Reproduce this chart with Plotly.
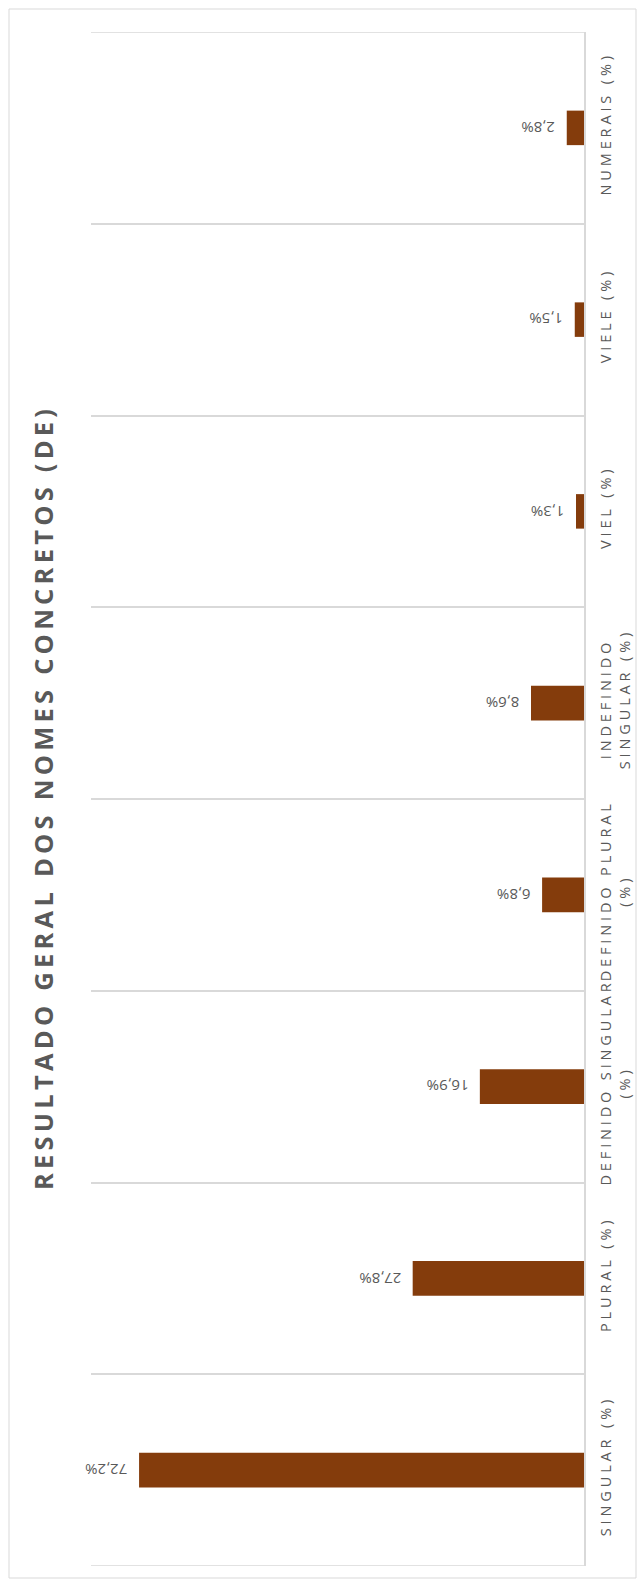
import plotly.graph_objects as go

# Categories (bottom to top) and their shares in percent
categories = [
    "SINGULAR (%)",
    "PLURAL (%)",
    "DEFINIDO SINGULAR<br>(%)",
    "DEFINIDO PLURAL<br>(%)",
    "INDEFINIDO<br>SINGULAR (%)",
    "VIEL (%)",
    "VIELE (%)",
    "NUMERAIS (%)",
]
values = [72.2, 27.8, 16.9, 6.8, 8.6, 1.3, 1.5, 2.8]
title_text = "RESULTADO GERAL DOS NOMES CONCRETOS (DE)"

BAR_COLOR = "#843C0C"
TEXT_COLOR = "#595959"
GRID_COLOR = "#D9D9D9"
FONT = "Open Sans"

W, H = 640, 1584
ML, MR, MT, MB = 91, 56, 32, 18
PW, PH = W - ML - MR, H - MT - MB


def spaced(label, gap="\u2009"):
    """Spread the letters of each line apart, like wide character spacing."""
    return "<br>".join(gap.join(line) for line in label.split("<br>"))


def fmt(v):
    return f"{v:.1f}%".replace(".", ",")


def px_x(p):
    return (p - ML) / PW


def px_y(p):
    return (H - MB - p) / PH


tick_labels = [spaced(c, "\u2009\u200a") for c in categories]

fig = go.Figure(
    go.Bar(
        x=values,
        y=tick_labels,
        orientation="h",
        marker=dict(color=BAR_COLOR, line=dict(width=0)),
        width=0.18,
        hoverinfo="skip",
    )
)

# Value labels, turned upside down, just past the end of each bar
for v, c in zip(values, tick_labels):
    t = fmt(v)
    approx_w = 8.2 * len(t)
    fig.add_annotation(
        x=v, y=c, xref="x", yref="y",
        text=t, showarrow=False, textangle=180,
        xanchor="center", yanchor="middle",
        xshift=-(12 + approx_w / 2),
        font=dict(family=FONT, size=15, color=TEXT_COLOR),
    )

# Vertical chart title on the left
fig.add_annotation(
    x=px_x(43), y=px_y(800), xref="paper", yref="paper",
    text=f"<b>{spaced(title_text)}</b>", showarrow=False, textangle=-90,
    xanchor="center", yanchor="middle",
    font=dict(family=FONT, size=25.5, color=TEXT_COLOR),
)

# Outer category boundaries (first and last separator lines)
for yb in (-0.5, len(categories) - 0.5):
    fig.add_shape(
        type="line", xref="paper", yref="y",
        x0=0, x1=1, y0=yb, y1=yb,
        line=dict(color=GRID_COLOR, width=1.5), layer="below",
    )

# Thin outer frame around the chart
fig.add_shape(
    type="rect", xref="paper", yref="paper",
    x0=px_x(9), x1=px_x(636), y0=px_y(1578), y1=px_y(9),
    line=dict(color=GRID_COLOR, width=1), fillcolor="rgba(0,0,0,0)",
    layer="below",
)

fig.update_layout(
    width=W, height=H,
    margin=dict(l=ML, r=MR, t=MT, b=MB),
    paper_bgcolor="white", plot_bgcolor="white",
    showlegend=False,
    xaxis=dict(
        range=[80, 0], showgrid=False, zeroline=False,
        showticklabels=False, showline=False, ticks="",
        automargin=False,
    ),
    yaxis=dict(
        type="category", side="right", tickson="boundaries",
        showgrid=True, gridcolor=GRID_COLOR, gridwidth=1.5,
        showline=True, linecolor=GRID_COLOR, linewidth=1.5,
        ticks="", tickangle=-90, ticklabelstandoff=8,
        tickfont=dict(family=FONT, size=14.5, color=TEXT_COLOR),
        range=[-0.5, len(categories) - 0.5],
        automargin=False,
    ),
)

fig.write_html("out.html")
